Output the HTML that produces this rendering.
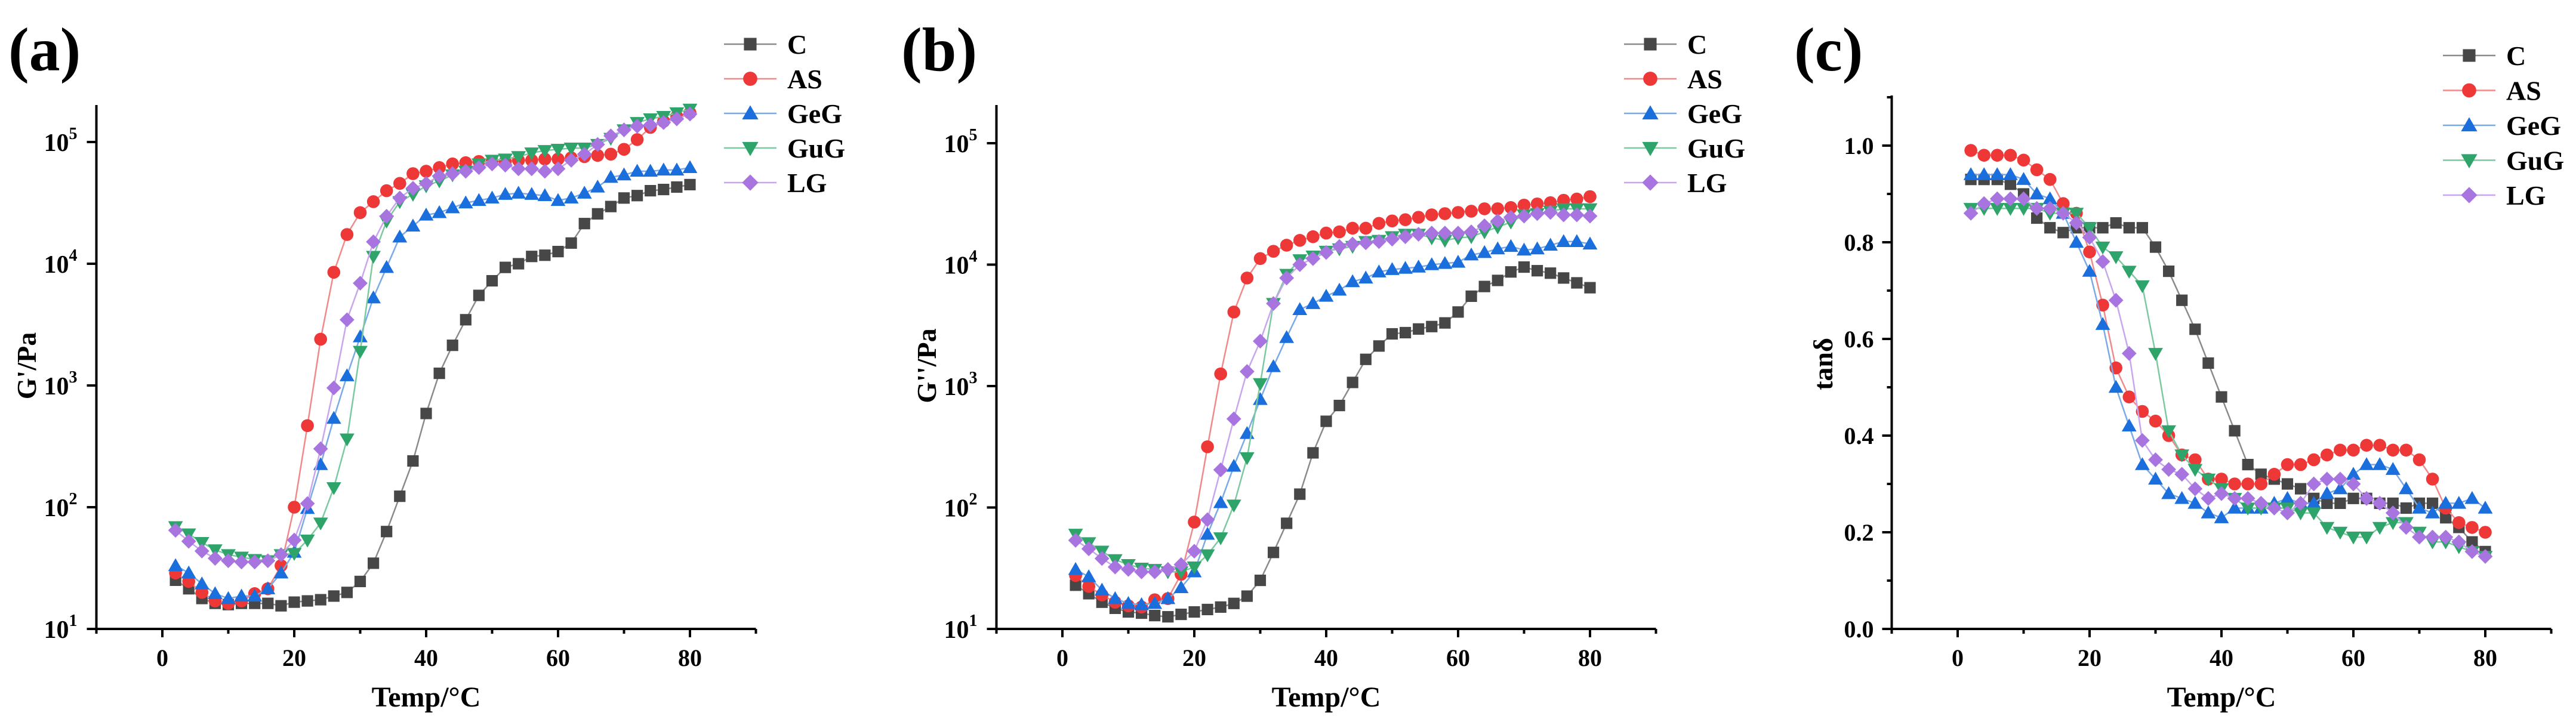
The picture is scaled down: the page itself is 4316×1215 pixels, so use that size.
<!DOCTYPE html>
<html><head><meta charset="utf-8"><style>
html,body{margin:0;padding:0;background:#fff;}
svg{display:block;font-family:"Liberation Serif",serif;font-weight:bold;}
</style></head><body>
<svg id="fig" width="4316" height="1215" viewBox="0 0 4316 1215" xmlns="http://www.w3.org/2000/svg"></svg>
<script>
const temps=[2,4,6,8,10,12,14,16,18,20,22,24,26,28,30,32,34,36,38,40,42,44,46,48,50,52,54,56,58,60,62,64,66,68,70,72,74,76,78,80];
const seriesNames=["C","AS","GeG","GuG","LG"];
const xTicks=[0,20,40,60,80];
const logTickLabels=["1","2","3","4","5"];
const tanTicks=[0.0,0.2,0.4,0.6,0.8,1.0];
// panel a: log10(G'/Pa)
const aC=[1.40,1.33,1.25,1.21,1.20,1.21,1.21,1.21,1.19,1.22,1.23,1.24,1.27,1.30,1.39,1.54,1.80,2.09,2.38,2.77,3.10,3.33,3.54,3.74,3.86,3.97,4.00,4.06,4.07,4.10,4.17,4.33,4.41,4.47,4.54,4.56,4.60,4.61,4.63,4.65];
const aAS=[1.46,1.39,1.30,1.23,1.21,1.23,1.29,1.33,1.52,2.00,2.67,3.38,3.93,4.24,4.42,4.51,4.60,4.66,4.74,4.76,4.79,4.82,4.83,4.84,4.84,4.84,4.85,4.85,4.86,4.86,4.87,4.88,4.89,4.90,4.94,5.02,5.12,5.17,5.21,5.24];
const aGeG=[1.52,1.46,1.37,1.29,1.25,1.27,1.27,1.33,1.46,1.63,1.99,2.35,2.73,3.08,3.40,3.72,3.97,4.22,4.31,4.40,4.42,4.46,4.50,4.52,4.54,4.57,4.58,4.57,4.56,4.52,4.54,4.58,4.63,4.71,4.73,4.76,4.76,4.77,4.77,4.79];
const aGuG=[1.84,1.78,1.71,1.65,1.61,1.59,1.57,1.56,1.61,1.62,1.73,1.87,2.16,2.56,3.28,4.06,4.35,4.51,4.57,4.64,4.68,4.73,4.76,4.82,4.85,4.86,4.88,4.91,4.93,4.94,4.95,4.95,4.98,5.03,5.10,5.16,5.19,5.21,5.24,5.27];
const aLG=[1.81,1.72,1.64,1.58,1.56,1.55,1.55,1.56,1.61,1.73,2.03,2.48,2.98,3.54,3.84,4.18,4.39,4.54,4.62,4.66,4.72,4.74,4.76,4.79,4.82,4.81,4.78,4.78,4.76,4.78,4.85,4.90,4.98,5.05,5.10,5.13,5.14,5.16,5.19,5.23];
// panel b: log10(G''/Pa)
const bC=[1.36,1.29,1.22,1.17,1.14,1.13,1.11,1.10,1.12,1.14,1.16,1.18,1.21,1.27,1.40,1.63,1.87,2.11,2.45,2.71,2.84,3.03,3.22,3.33,3.43,3.44,3.47,3.49,3.52,3.61,3.74,3.82,3.87,3.94,3.98,3.95,3.93,3.89,3.85,3.81];
const bAS=[1.44,1.35,1.28,1.22,1.19,1.18,1.24,1.25,1.45,1.88,2.50,3.10,3.61,3.89,4.05,4.11,4.16,4.20,4.23,4.26,4.27,4.30,4.30,4.34,4.36,4.37,4.39,4.41,4.42,4.43,4.44,4.46,4.46,4.47,4.49,4.50,4.51,4.53,4.54,4.56];
const bGeG=[1.49,1.43,1.32,1.25,1.21,1.20,1.21,1.25,1.34,1.47,1.78,2.04,2.34,2.61,2.89,3.16,3.40,3.63,3.68,3.74,3.79,3.86,3.89,3.94,3.96,3.97,3.98,4.00,4.01,4.02,4.08,4.10,4.13,4.15,4.12,4.13,4.16,4.19,4.19,4.17];
const bGuG=[1.78,1.71,1.64,1.57,1.53,1.50,1.49,1.47,1.47,1.51,1.61,1.75,2.02,2.41,3.02,3.68,3.92,4.04,4.07,4.11,4.13,4.15,4.19,4.20,4.23,4.25,4.25,4.22,4.20,4.22,4.23,4.27,4.31,4.35,4.41,4.42,4.44,4.46,4.46,4.46];
const bLG=[1.73,1.66,1.58,1.51,1.49,1.47,1.47,1.49,1.53,1.64,1.90,2.31,2.73,3.12,3.37,3.68,3.89,4.00,4.05,4.10,4.15,4.17,4.18,4.19,4.21,4.23,4.25,4.26,4.26,4.26,4.27,4.32,4.36,4.39,4.40,4.42,4.43,4.41,4.41,4.40];
// panel c: tan delta
const cC=[0.93,0.93,0.93,0.92,0.90,0.85,0.83,0.82,0.83,0.83,0.83,0.84,0.83,0.83,0.79,0.74,0.68,0.62,0.55,0.48,0.41,0.34,0.32,0.31,0.30,0.29,0.27,0.26,0.26,0.27,0.27,0.26,0.26,0.25,0.26,0.26,0.23,0.21,0.18,0.16];
const cAS=[0.99,0.98,0.98,0.98,0.97,0.95,0.93,0.88,0.86,0.78,0.67,0.54,0.48,0.45,0.43,0.40,0.36,0.35,0.31,0.31,0.30,0.30,0.30,0.32,0.34,0.34,0.35,0.36,0.37,0.37,0.38,0.38,0.37,0.37,0.35,0.31,0.25,0.22,0.21,0.20];
const cGeG=[0.94,0.94,0.94,0.94,0.93,0.90,0.89,0.86,0.80,0.74,0.63,0.50,0.42,0.34,0.31,0.28,0.27,0.26,0.24,0.23,0.25,0.25,0.25,0.26,0.27,0.26,0.26,0.28,0.29,0.32,0.34,0.34,0.33,0.29,0.25,0.24,0.26,0.26,0.27,0.25];
const cGuG=[0.87,0.87,0.87,0.87,0.87,0.87,0.86,0.86,0.86,0.83,0.79,0.77,0.74,0.71,0.57,0.41,0.36,0.33,0.31,0.29,0.27,0.25,0.25,0.25,0.25,0.24,0.24,0.21,0.20,0.19,0.19,0.21,0.22,0.22,0.20,0.18,0.18,0.17,0.16,0.15];
const cLG=[0.86,0.88,0.89,0.89,0.89,0.87,0.87,0.86,0.84,0.81,0.76,0.68,0.57,0.39,0.35,0.33,0.32,0.29,0.27,0.28,0.27,0.27,0.26,0.25,0.24,0.26,0.30,0.31,0.31,0.30,0.27,0.26,0.24,0.21,0.19,0.19,0.19,0.18,0.16,0.15];

const NS="http://www.w3.org/2000/svg";
const svg=document.getElementById('fig');
const colors=["#474747","#ee3838","#1a6fdc","#2ea46a","#a874e0"];
const lineColors=["#8a8a8a","#f08a8a","#7aaae6","#7cc9a0","#c7a6ee"];
const shapes=["square","circle","up","down","diamond"];
function el(tag,attrs,parent){const e=document.createElementNS(NS,tag);for(const k in attrs)e.setAttribute(k,attrs[k]);(parent||svg).appendChild(e);return e;}
function marker(g,shape,cx,cy,color,s){
  let m;
  if(shape==="square")m=el('rect',{x:cx-s*0.48,y:cy-s*0.48,width:s*0.96,height:s*0.96,fill:color},g);
  else if(shape==="circle")m=el('circle',{cx:cx,cy:cy,r:s*0.54,fill:color},g);
  else if(shape==="up")m=el('polygon',{points:`${cx},${cy-s*0.62} ${cx-s*0.62},${cy+s*0.46} ${cx+s*0.62},${cy+s*0.46}`,fill:color},g);
  else if(shape==="down")m=el('polygon',{points:`${cx},${cy+s*0.62} ${cx-s*0.62},${cy-s*0.46} ${cx+s*0.62},${cy-s*0.46}`,fill:color},g);
  else m=el('polygon',{points:`${cx},${cy-s*0.62} ${cx+s*0.62},${cy} ${cx},${cy+s*0.62} ${cx-s*0.62},${cy}`,fill:color},g);
  return m;
}
function panel(p){
  const g=el('g',{});
  
  
  const xs=v=>p.x0+v*11.05;
  const ys=v=>p.yBot-(v-p.yMin)*p.yPer;
  const left=xs(-10),right=xs(90);
  const lab=el('text',{x:p.labX,y:118,'font-size':104},g);lab.textContent=p.label;
  
  
  const ax=el('path',{d:`M${left},${p.yTop} V${p.yBot} H${right}`,stroke:'#000','stroke-width':4,fill:'none'},g);
  
  
  for(let v=-10;v<=90;v+=10){
    const major=(v%20===0);
    el('line',{x1:xs(v),x2:xs(v),y1:p.yBot,y2:p.yBot+(major?14:8),stroke:'#000','stroke-width':4},g);
  }
  xTicks.forEach(v=>{const t=el('text',{x:xs(v),y:p.yBot+62,'font-size':40,'text-anchor':'middle'},g);t.textContent=v;
    
    });
  const xt=el('text',{x:(xs(0)+xs(80))/2,y:p.yBot+130,'font-size':48,'text-anchor':'middle'},g);xt.textContent="Temp/°C";
  
  
  if(p.log){
    logTickLabels.forEach(s=>{const v=+s;const y=ys(v);
      el('line',{x1:left-16,x2:left,y1:y,y2:y,stroke:'#000','stroke-width':4},g);
      const t=el('text',{x:left-32,y:y+15,'font-size':42,'text-anchor':'end'},g);
      
      
      const a=el('tspan',{},t);a.textContent="10";
      const b=el('tspan',{dy:-20,'font-size':28},t);b.textContent=s;});
  }else{
    for(let i=0;i<=11;i++){const v=i/10;const y=ys(v);
      el('line',{x1:left-(i%2===0?16:8),x2:left,y1:y,y2:y,stroke:'#000','stroke-width':4},g);}
    tanTicks.forEach(v=>{const t=el('text',{x:left-30,y:ys(v)+14,'font-size':40,'text-anchor':'end'},g);t.textContent=v.toFixed(1);
      
      });
  }
  const yt=el('text',{x:0,y:0,'font-size':46,'text-anchor':'middle',transform:`translate(${p.yTitleX},${p.yTitleY}) rotate(-90)`},g);yt.textContent=p.ytitle;
  
  
  p.series.forEach((arr,si)=>{
    const sg=el('g',{},g);
    
    
    const d=arr.map((v,i)=>(i?'L':'M')+xs(temps[i]).toFixed(1)+','+ys(v).toFixed(1)).join(' ');
    el('path',{d:d,stroke:lineColors[si],'stroke-width':2.5,fill:'none'},sg);
    arr.forEach((v,i)=>{const m=marker(sg,shapes[si],xs(temps[i]),ys(v),colors[si],20);
      
      });
  });
  const lg=el('g',{},g);
  
  
  seriesNames.forEach((n,i)=>{
    const y=p.legY+i*p.legStep;
    const eg=el('g',{},lg);
    
    
    el('line',{x1:p.legX,x2:p.legX+88,y1:y,y2:y,stroke:lineColors[i],'stroke-width':2.5},eg);
    marker(eg,shapes[i],p.legX+44,y,colors[i],22);
    const t=el('text',{x:p.legX+106,y:y+16,'font-size':46},eg);t.textContent=n;
  });
}
panel({name:'panel-a-storage-modulus',label:'(a)',labX:14,x0:272,yTop:176,yBot:1054,yMin:1,yPer:204,log:true,ytitle:"G'/Pa",yTitleX:60,yTitleY:613,series:[aC,aAS,aGeG,aGuG,aLG],legX:1213,legY:74,legStep:58});
panel({name:'panel-b-loss-modulus',label:'(b)',labX:1510,x0:1780,yTop:176,yBot:1054,yMin:1,yPer:203.5,log:true,ytitle:"G''/Pa",yTitleX:1568,yTitleY:613,series:[bC,bAS,bGeG,bGuG,bLG],legX:2721,legY:74,legStep:58});
panel({name:'panel-c-tan-delta',label:'(c)',labX:3006,x0:3280,yTop:160,yBot:1054,yMin:0,yPer:810,log:false,ytitle:"tanδ",yTitleX:3070,yTitleY:610,series:[cC,cAS,cGeG,cGuG,cLG],legX:4093,legY:93,legStep:58.5});
</script>
</body></html>
